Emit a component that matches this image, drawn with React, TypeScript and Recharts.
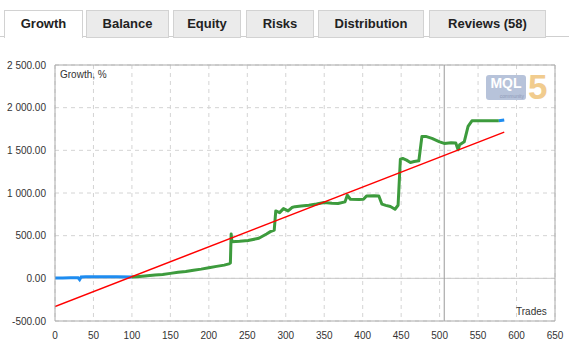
import React from "react";
import { LineChart, Line, XAxis, YAxis, CartesianGrid, ReferenceLine } from "recharts";

const tabLabels = ["Growth", "Balance", "Equity", "Risks", "Distribution", "Reviews (58)"];
const xTicks = [0, 50, 100, 150, 200, 250, 300, 350, 400, 450, 500, 550, 600, 650];
const yTicks = [-500, 0, 500, 1000, 1500, 2000, 2500];

const blueStartTrades = [0, 10, 20, 30, 32, 34, 40, 60, 80, 100];
const blueStartValues = [5, 5, 6, 6, -15, 15, 18, 20, 20, 15];

const greenTrades = [
  100, 110, 120, 130, 140, 150, 160, 170, 180, 190, 200, 210, 220, 226, 228, 229, 230, 240, 251, 265,
  275, 280, 285, 287, 292, 297, 303, 308, 312, 320, 330, 340, 350, 360, 368, 377, 380, 384, 395, 401,
  405, 415, 421, 425, 430, 436, 442, 446, 449, 452, 457, 462, 467, 473, 477, 482, 490, 500, 506, 515,
  521, 524, 526, 532, 537, 542, 560, 577,
];
const greenValues = [
  15, 22, 30, 38, 45, 58, 70, 80, 95, 108, 125, 140, 155, 170, 180, 520, 430, 435, 443, 469,
  520, 547, 566, 790, 770, 817, 790, 830, 840, 848, 856, 870, 888, 880, 876, 896, 974, 927, 925, 927,
  966, 968, 966, 869, 855, 841, 810, 856, 1397, 1405, 1385, 1358, 1370, 1378, 1663, 1663, 1640, 1600, 1581, 1590,
  1585, 1506, 1565, 1600, 1780, 1846, 1846, 1846,
];

const blueEndTrades = [577, 584];
const blueEndValues = [1846, 1856];

const trendTrades = [0, 584];
const trendValues = [-330, 1713];

const markerTrade = 506;

const toPoints = (xs: number[], ys: number[]) => xs.map((x, i) => ({ trade: x, growth: ys[i] }));

const fmt = (v: number) => {
  const s = Math.abs(v).toFixed(2);
  const [i, d] = s.split(".");
  return (v < 0 ? "-" : "") + i.replace(/\B(?=(\d{3})+(?!\d))/g, " ") + "." + d;
};

const tabBoxes = [
  [4, 79], [86, 83], [173, 68], [246, 68], [318, 106], [429, 117],
];

const font = "'Liberation Sans', Arial, sans-serif";

const YTick = (props: any) => {
  const { x, y, payload } = props;
  return (
    <text x={x} y={y} dy={3.5} textAnchor="end" fontSize={10} fill="#333" fontFamily={font} style={{ whiteSpace: "pre" }}>
      {fmt(payload.value)}
    </text>
  );
};

export default function App() {
  return (
    <div style={{ position: "absolute", left: 0, top: 0, width: 569, height: 355, background: "#fff", fontFamily: font }}>
      <div style={{ position: "absolute", left: 0, top: 36, width: 569, height: 1, background: "#cfcfcf" }} />
      {tabLabels.map((t, i) => {
        const active = i === 0;
        return (
          <div
            key={t}
            style={{
              position: "absolute",
              left: tabBoxes[i][0],
              top: 10,
              width: tabBoxes[i][1] - 2,
              height: active ? 27 : 26,
              border: "1px solid #d2d2d2",
              borderBottom: active ? "none" : "1px solid #d2d2d2",
              background: active ? "#fff" : "#ebebeb",
              fontWeight: "bold",
              fontSize: 13,
              color: "#222",
              textAlign: "center",
              lineHeight: "26px",
            }}
          >
            {t}
          </div>
        );
      })}
      <div style={{ position: "absolute", left: 0, top: 0 }}>
        <LineChart width={569} height={355} margin={{ top: 65, right: 14, bottom: 14, left: 0 }}>
          <CartesianGrid stroke="#d4d4d4" strokeDasharray="4 4" />
          <XAxis
            type="number"
            dataKey="trade"
            domain={[0, 650]}
            ticks={xTicks}
            interval={0}
            allowDataOverflow
            height={20}
            axisLine={{ stroke: "#aaaaaa" }}
            tickLine={false}
            tickSize={0}
            tickMargin={11}
            tick={{ fontSize: 10, fill: "#333", fontFamily: font }}
          />
          <YAxis
            type="number"
            dataKey="growth"
            domain={[-500, 2500]}
            ticks={yTicks}
            interval={0}
            width={55}
            axisLine={{ stroke: "#aaaaaa" }}
            tickLine={false}
            tickSize={0}
            tickMargin={9}
            tick={<YTick />}
          />
          <ReferenceLine y={0} stroke="#c8c8c8" />
          <ReferenceLine y={2500} stroke="#aaaaaa" />
          <ReferenceLine x={650} stroke="#aaaaaa" />
          <ReferenceLine x={markerTrade} stroke="#999999" />
          <Line
            data={toPoints(blueStartTrades, blueStartValues)}
            dataKey="growth"
            stroke="#1e8cf0"
            strokeWidth={3}
            dot={false}
            isAnimationActive={false}
          />
          <Line
            data={toPoints(greenTrades, greenValues)}
            dataKey="growth"
            stroke="#3d9b3d"
            strokeWidth={3}
            dot={false}
            strokeLinejoin="round"
            isAnimationActive={false}
          />
          <Line
            data={toPoints(blueEndTrades, blueEndValues)}
            dataKey="growth"
            stroke="#1e8cf0"
            strokeWidth={3}
            dot={false}
            isAnimationActive={false}
          />
          <Line
            data={toPoints(trendTrades, trendValues)}
            dataKey="growth"
            stroke="#ff0000"
            strokeWidth={1.5}
            dot={false}
            isAnimationActive={false}
          />
        </LineChart>
      </div>
      <div style={{ position: "absolute", left: 60, top: 69, fontSize: 10, color: "#333" }}>Growth, %</div>
      <div style={{ position: "absolute", left: 516, top: 306, fontSize: 10, color: "#333" }}>Trades</div>
      <div style={{ position: "absolute", left: 486, top: 75, width: 40, height: 25, background: "#b7c3da", borderRadius: 3 }}>
        <div style={{ position: "absolute", left: 0, top: 1, width: 40, textAlign: "center", color: "#fff", fontWeight: "bold", fontSize: 14, lineHeight: "15px" }}>MQL</div>
        <div style={{ position: "absolute", left: 0, top: 18, width: 38, textAlign: "right", color: "#8e9bb8", fontSize: 5, lineHeight: "6px" }}>community</div>
      </div>
      <div style={{ position: "absolute", left: 528, top: 70, color: "#f1cc8e", fontWeight: "bold", fontSize: 35, lineHeight: "34px" }}>5</div>
    </div>
  );
}
